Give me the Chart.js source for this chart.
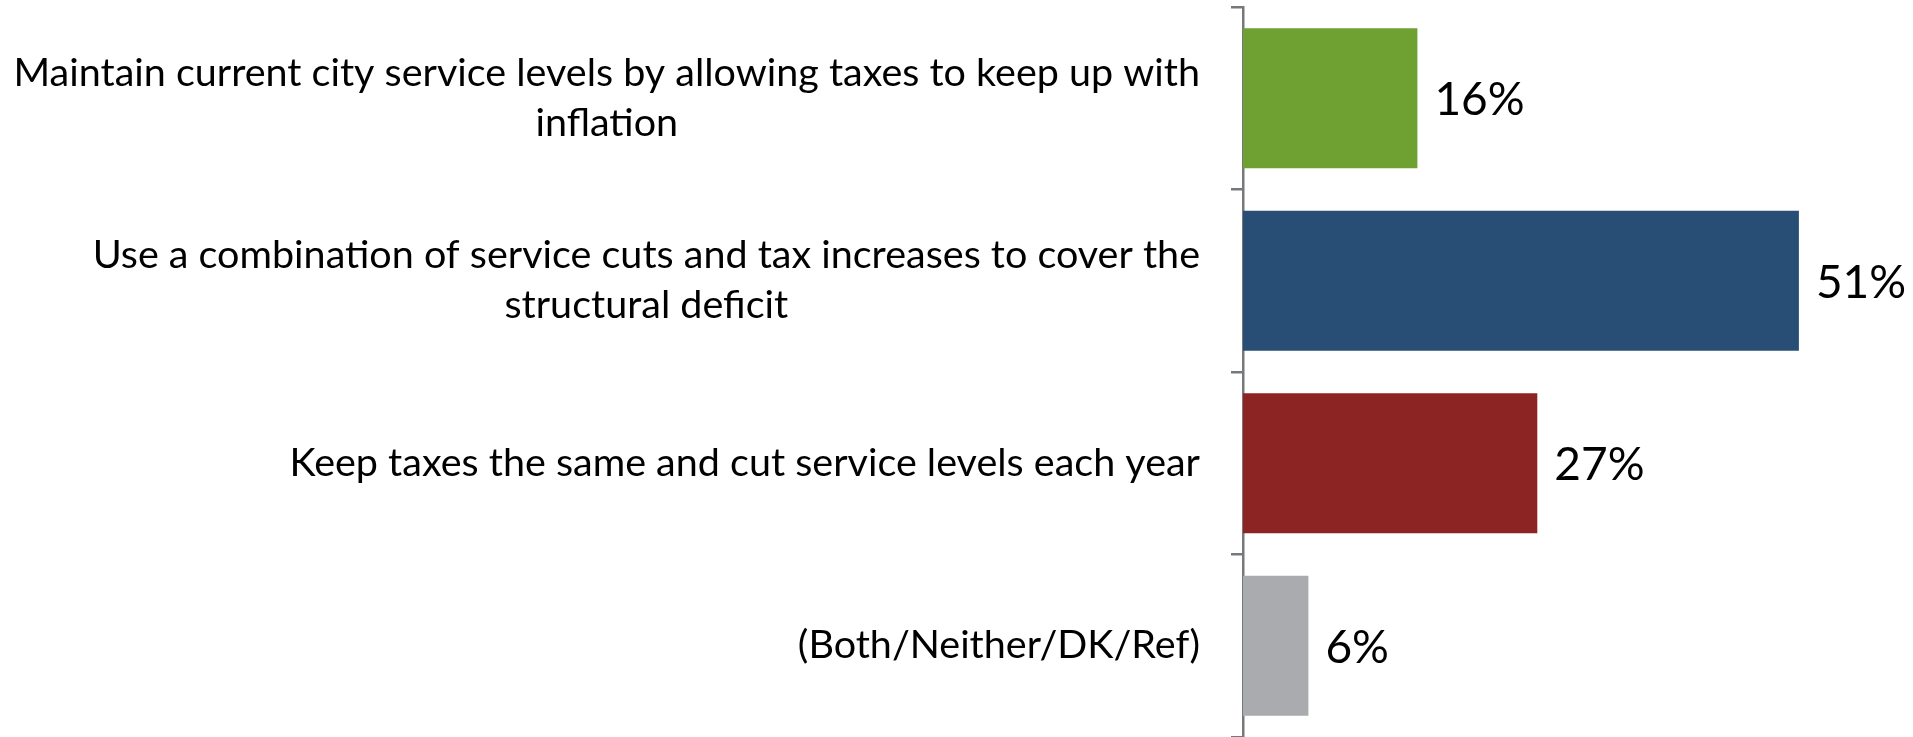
<!DOCTYPE html>
<html>
<head>
<meta charset="utf-8">
<script src="https://cdn.jsdelivr.net/npm/chart.js@4/dist/chart.umd.min.js"></script>
<style>
  html, body { margin: 0; padding: 0; background: #fff; }
  #wrap { width: 1913px; height: 737px; }
</style>
</head>
<body>
<div id="wrap"><canvas id="budgetChart" width="1913" height="737"></canvas></div>
<script>
// 选项标签（每行一段）
const categories = [
    ['Maintain current city service levels by allowing taxes to keep up with', 'inflation'],
    ['Use a combination of service cuts and tax increases to cover the', 'structural deficit'],
    ['Keep taxes the same and cut service levels each year'],
    ['(Both/Neither/DK/Ref)']
];
const values = [16, 51, 27, 6];
const barColors = ['#6EA032', '#294E75', '#8C2423', '#AAABAE'];

const axisColor = '#77787B';
const labelFont = '39.5px Lato';
const valueFont = '46px Lato';

// 左侧标签：整块右对齐，块内各行居中
const categoryLabels = {
    id: 'categoryLabels',
    afterDraw(chart) {
        const ctx = chart.ctx;
        const y = chart.scales.y;
        const right = chart.chartArea.left - 43;
        const lineHeight = 50;
        ctx.save();
        ctx.font = labelFont;
        ctx.fillStyle = '#000';
        ctx.textAlign = 'center';
        ctx.textBaseline = 'middle';
        categories.forEach((lines, i) => {
            const w = Math.max(...lines.map(l => ctx.measureText(l).width));
            const cx = right - w / 2;
            const cy = y.getPixelForValue(i);
            lines.forEach((line, j) => {
                ctx.fillText(line, cx, cy + (j - (lines.length - 1) / 2) * lineHeight);
            });
        });
        ctx.restore();
    }
};

// 柱子右侧的百分比
const valueLabels = {
    id: 'valueLabels',
    afterDatasetsDraw(chart) {
        const ctx = chart.ctx;
        const meta = chart.getDatasetMeta(0);
        ctx.save();
        ctx.font = valueFont;
        ctx.fillStyle = '#000';
        ctx.textAlign = 'left';
        ctx.textBaseline = 'middle';
        meta.data.forEach((bar, i) => {
            ctx.fillText(values[i] + '%', bar.x + 17, bar.y + 2);
        });
        ctx.restore();
    }
};

new Chart(document.getElementById('budgetChart').getContext('2d'), {
    type: 'bar',
    data: {
        labels: categories,
        datasets: [{
            data: values,
            backgroundColor: barColors,
            borderWidth: 0,
            barPercentage: 0.767,
            categoryPercentage: 1
        }]
    },
    options: {
        indexAxis: 'y',
        responsive: false,
        animation: false,
        events: [],
        layout: { padding: { top: 7, right: 16, bottom: 0, left: 0 } },
        plugins: {
            legend: { display: false },
            tooltip: { enabled: false },
            title: { display: false }
        },
        scales: {
            x: {
                display: false,
                min: 0,
                max: 60
            },
            y: {
                offset: true,
                afterFit(scale) { scale.width = 1243; },
                ticks: { display: false },
                grid: {
                    display: true,
                    offset: true,
                    drawOnChartArea: false,
                    drawTicks: true,
                    tickLength: 12,
                    color: axisColor,
                    lineWidth: 2.5
                },
                border: { display: true, color: axisColor, width: 2.5 }
            }
        }
    },
    plugins: [categoryLabels, valueLabels]
});
</script>
</body>
</html>
